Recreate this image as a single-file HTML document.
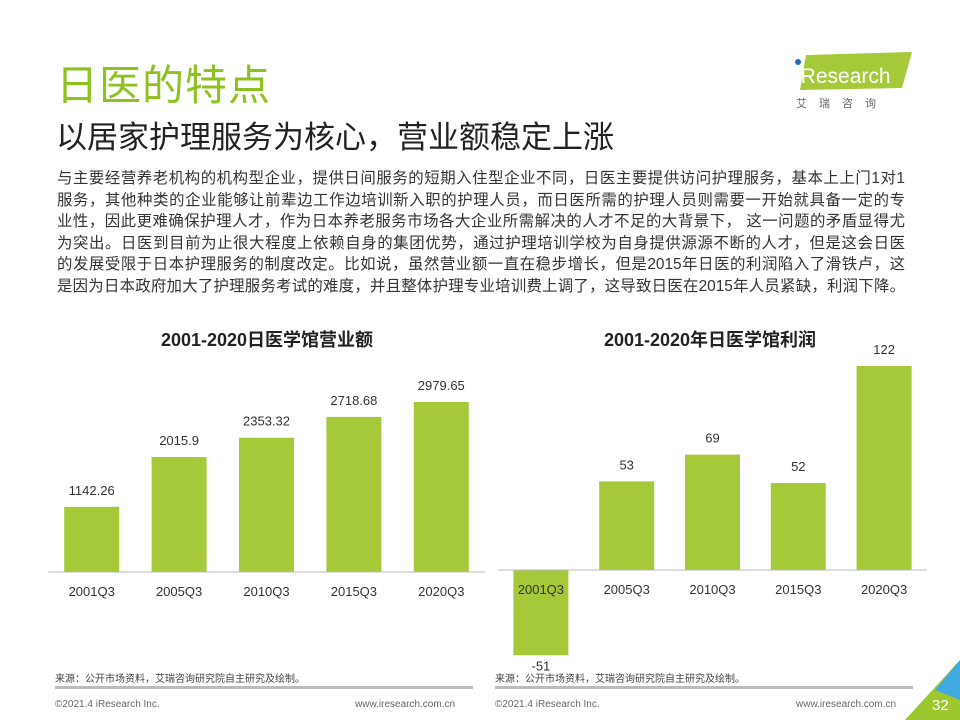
<!DOCTYPE html>
<html><head><meta charset="utf-8"><style>
body{margin:0;width:960px;height:720px;overflow:hidden;background:#fff;font-family:"Liberation Sans","Noto Sans CJK SC",sans-serif;position:relative}
.abs{position:absolute}
#t1{left:56px;top:52px;font-size:42px;color:#8dc21f;letter-spacing:1px}
#t2{left:56px;top:112px;font-size:31px;color:#222}
#para{left:57px;top:168px;width:848px;font-size:15.4px;line-height:21.6px;color:#333}
#para div{white-space:nowrap;text-align:justify;text-align-last:justify;width:848px}
.src{font-size:10px;color:#444;top:670px}
.foot{font-size:10px;color:#666;top:699px}
.line{height:3px;background:#bbb;top:686px}
</style></head><body>
<div class="abs" id="t1">日医的特点</div>
<div class="abs" id="t2">以居家护理服务为核心，营业额稳定上涨</div>
<div class="abs" id="para">
<div>与主要经营养老机构的机构型企业，提供日间服务的短期入住型企业不同，日医主要提供访问护理服务，基本上上门1对1</div>
<div>服务，其他种类的企业能够让前辈边工作边培训新入职的护理人员，而日医所需的护理人员则需要一开始就具备一定的专</div>
<div>业性，因此更难确保护理人才，作为日本养老服务市场各大企业所需解决的人才不足的大背景下， 这一问题的矛盾显得尤</div>
<div>为突出。日医到目前为止很大程度上依赖自身的集团优势，通过护理培训学校为自身提供源源不断的人才，但是这会日医</div>
<div>的发展受限于日本护理服务的制度改定。比如说，虽然营业额一直在稳步增长，但是2015年日医的利润陷入了滑铁卢，这</div>
<div>是因为日本政府加大了护理服务考试的难度，并且整体护理专业培训费上调了，这导致日医在2015年人员紧缺，利润下降。</div>
</div>
<svg class="abs" style="left:0;top:0" width="960" height="720">
<polygon points="806,55 912,52 902,88 800,90" fill="#a6c93a"/>
<circle cx="798" cy="62" r="3" fill="#2a6db5"/>
<text x="796" y="83" font-size="21" fill="#fff" font-family="Liberation Sans">iResearch</text>
<text x="796" y="107" font-size="11" fill="#666" letter-spacing="12" font-family="Liberation Sans,Noto Sans CJK SC,sans-serif">艾瑞咨询</text>
<polygon points="960,660 960,720 905,720" fill="#9cc72d"/>
<polygon points="960,660 935,690 960,700" fill="#3fa9e0"/>
<text x="932" y="710" font-size="15" fill="#fff" font-family="Liberation Sans">32</text>
</svg>
<svg class="abs" id="charts" style="left:0;top:0" width="960" height="720"></svg>
<div class="abs src" style="left:55px">来源：公开市场资料，艾瑞咨询研究院自主研究及绘制。</div>
<div class="abs src" style="left:495px">来源：公开市场资料，艾瑞咨询研究院自主研究及绘制。</div>
<div class="abs line" style="left:55px;width:418px"></div>
<div class="abs line" style="left:495px;width:418px"></div>
<div class="abs foot" style="left:55px">©2021.4 iResearch Inc.</div>
<div class="abs foot" style="left:355px">www.iresearch.com.cn</div>
<div class="abs foot" style="left:495px">©2021.4 iResearch Inc.</div>
<div class="abs foot" style="left:796px">www.iresearch.com.cn</div>
<script>
const categories=["2001Q3","2005Q3","2010Q3","2015Q3","2020Q3"];
const revenue=[1142.26,2015.9,2353.32,2718.68,2979.65];
const revenueLabels=["1142.26","2015.9","2353.32","2718.68","2979.65"];
const profit=[-51,53,69,52,122];
const profitLabels=["-51","53","69","52","122"];
const svg=document.getElementById('charts');const NS="http://www.w3.org/2000/svg";
function mk(t,a){const e=document.createElementNS(NS,t);for(const k in a)e.setAttribute(k,a[k]);svg.appendChild(e);return e;}
function chart(name,title,tx,x0,x1,base,scale,vals,labels){
 const tt=mk('text',{x:tx,y:346,'text-anchor':'middle','font-size':18,'font-weight':'bold',fill:'#222'});tt.textContent=title;
 
 
 const step=(x1-x0)/vals.length;
 vals.forEach((v,i)=>{
  const cx=x0+step*(i+0.5),h=v*scale;
  const r=mk('rect',{x:cx-27.5,y:h>=0?base-h:base,width:55,height:Math.abs(h),fill:'#a6c93a'});
  
  
  const lt=mk('text',{x:cx,y:h>=0?base-h-12:base-h+15,'text-anchor':'middle','font-size':13,fill:'#333'});lt.textContent=labels[i];
  
  
  const ct=mk('text',{x:cx,y:base+24,'text-anchor':'middle','font-size':13,fill:'#333'});ct.textContent=categories[i];
  
  
 });
 const ax=mk('line',{x1:x0,x2:x1,y1:base,y2:base,stroke:'#bbb','stroke-width':1});
 
 
}
chart('revenue',"2001-2020日医学馆营业额",267,48,485,572,170/2979.65,revenue,revenueLabels);
chart('profit',"2001-2020年日医学馆利润",710,498,927,570,204/122,profit,profitLabels);
</script>
</body></html>
